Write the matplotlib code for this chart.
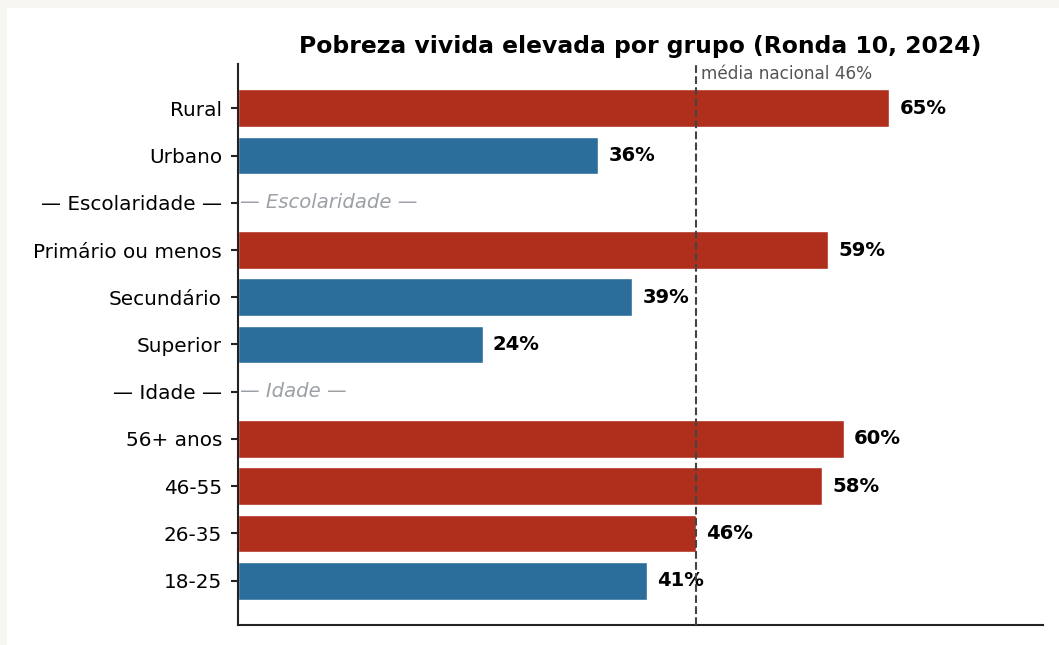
import matplotlib.pyplot as plt
from matplotlib.patches import Rectangle
import numpy as np

# Dados (Ronda 10, 2024) - % com pobreza vivida elevada
grupos = ['Rural', 'Urbano', '— Escolaridade —', 'Primário ou menos', 'Secundário',
          'Superior', '— Idade —', '56+ anos', '46-55', '26-35', '18-25']
valores = [64.9, 35.9, None, 58.8, 39.3, 24.4, None, 60.4, 58.2, 45.6, 40.8]
media_nacional = 45.6

cor_alta = '#b02f1c'
cor_baixa = '#2c6e9b'

fig = plt.figure(figsize=(10.59, 6.45), dpi=100)
fig.patch.set_facecolor('#f7f6f2')
# area branca do grafico
fig.patches.append(Rectangle((7 / 1059, 0), 1, 1 - 8 / 645, transform=fig.transFigure,
                             facecolor='white', edgecolor='none', zorder=-10))
ax = fig.add_axes([0.2247, 0.031, 0.76, 0.8698])
ax.set_facecolor('white')

y = np.arange(len(grupos))
for i, (g, v) in enumerate(zip(grupos, valores)):
    if v is None:
        # linha separadora com texto cinza
        ax.text(0.2, i, g, ha='left', va='center', fontsize=14.1, style='italic',
                color='#9ca1a7')
        continue
    cor = cor_alta if v >= media_nacional else cor_baixa
    ax.barh(i, v, height=0.8, color=cor, edgecolor='white', linewidth=1)
    ax.text(v + 1.0, i, f'{v:.0f}%', ha='left', va='center', fontsize=14.1,
            fontweight='bold', color='black')

ax.axvline(media_nacional, color='#444444', linestyle='--', linewidth=1.5, zorder=3)
ax.text(media_nacional + 0.55, -0.72, f'média nacional {media_nacional:.0f}%',
        ha='left', va='center', fontsize=12.2, color='#555555')

ax.set_yticks(y)
ax.set_yticklabels(grupos, fontsize=14.4)
ax.set_ylim(len(grupos) - 1 + 0.94, -0.94)
ax.set_xlim(0, 80.2)
ax.set_xticks([])
ax.tick_params(axis='y', length=5, width=1.5, color='#222222', pad=6.5)

for s in ['top', 'right']:
    ax.spines[s].set_visible(False)
for s in ['left', 'bottom']:
    ax.spines[s].set_linewidth(1.5)
    ax.spines[s].set_color('#222222')

ax.set_title('Pobreza vivida elevada por grupo (Ronda 10, 2024)', fontsize=16.9,
             fontweight='bold', pad=8)

fig.savefig('out.png', dpi=100, facecolor=fig.get_facecolor())
